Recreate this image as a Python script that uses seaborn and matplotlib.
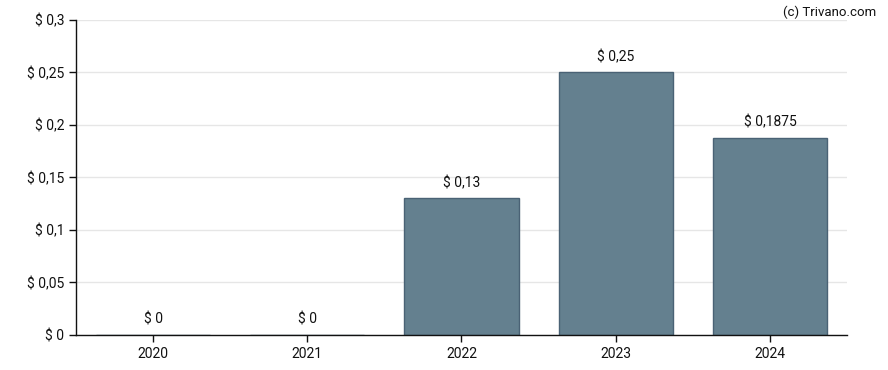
#!/usr/bin/env python3
"""Dividend per year bar chart."""

import matplotlib.pyplot as plt
import pandas as pd
import seaborn as sns

YEARS = ["2020", "2021", "2022", "2023", "2024"]
DIVIDENDS = [0.0, 0.0, 0.13, 0.25, 0.1875]
LABELS = ["$ 0", "$ 0", "$ 0,13", "$ 0,25", "$ 0,1875"]
Y_TICKS = [0, 0.05, 0.1, 0.15, 0.2, 0.25, 0.3]
Y_TICK_LABELS = ["$ 0", "$ 0,05", "$ 0,1", "$ 0,15", "$ 0,2", "$ 0,25", "$ 0,3"]


def main() -> None:
    sns.set_style("white")
    plt.rcParams["font.family"] = ["Roboto", "DejaVu Sans"]

    df = pd.DataFrame({"year": YEARS, "dividend": DIVIDENDS})

    fig = plt.figure(figsize=(8.88, 3.7), dpi=100)
    ax = fig.add_axes([0.0856, 0.0946, 0.8682, 0.8514])

    sns.barplot(
        data=df, x="year", y="dividend", color="#64808f", saturation=1,
        width=0.74, edgecolor="#4a6275", linewidth=1, ax=ax, zorder=2,
    )

    for i, (v, lab) in enumerate(zip(DIVIDENDS, LABELS)):
        ax.text(i, v + 0.008, lab, ha="center", va="bottom",
                fontsize=10, color="#111111")

    ax.set_ylim(0, 0.3)
    ax.set_xlim(-0.5, 4.5)
    ax.set_yticks(Y_TICKS)
    ax.set_yticklabels(Y_TICK_LABELS)
    ax.yaxis.grid(True, color="#e6e6e6", linewidth=1, zorder=0)
    ax.set_xlabel("")
    ax.set_ylabel("")
    ax.tick_params(axis="both", labelsize=10, colors="#111111",
                   length=5, width=1, direction="out", left=True, bottom=True)

    for side in ("top", "right"):
        ax.spines[side].set_visible(False)
    for side in ("left", "bottom"):
        ax.spines[side].set_color("#111111")
        ax.spines[side].set_linewidth(1)

    fig.text(0.987, 0.985, "(c) Trivano.com", ha="right", va="top",
             fontsize=9.5, color="#111111")

    fig.savefig("out.png", dpi=100)
    plt.close(fig)


if __name__ == "__main__":
    main()
